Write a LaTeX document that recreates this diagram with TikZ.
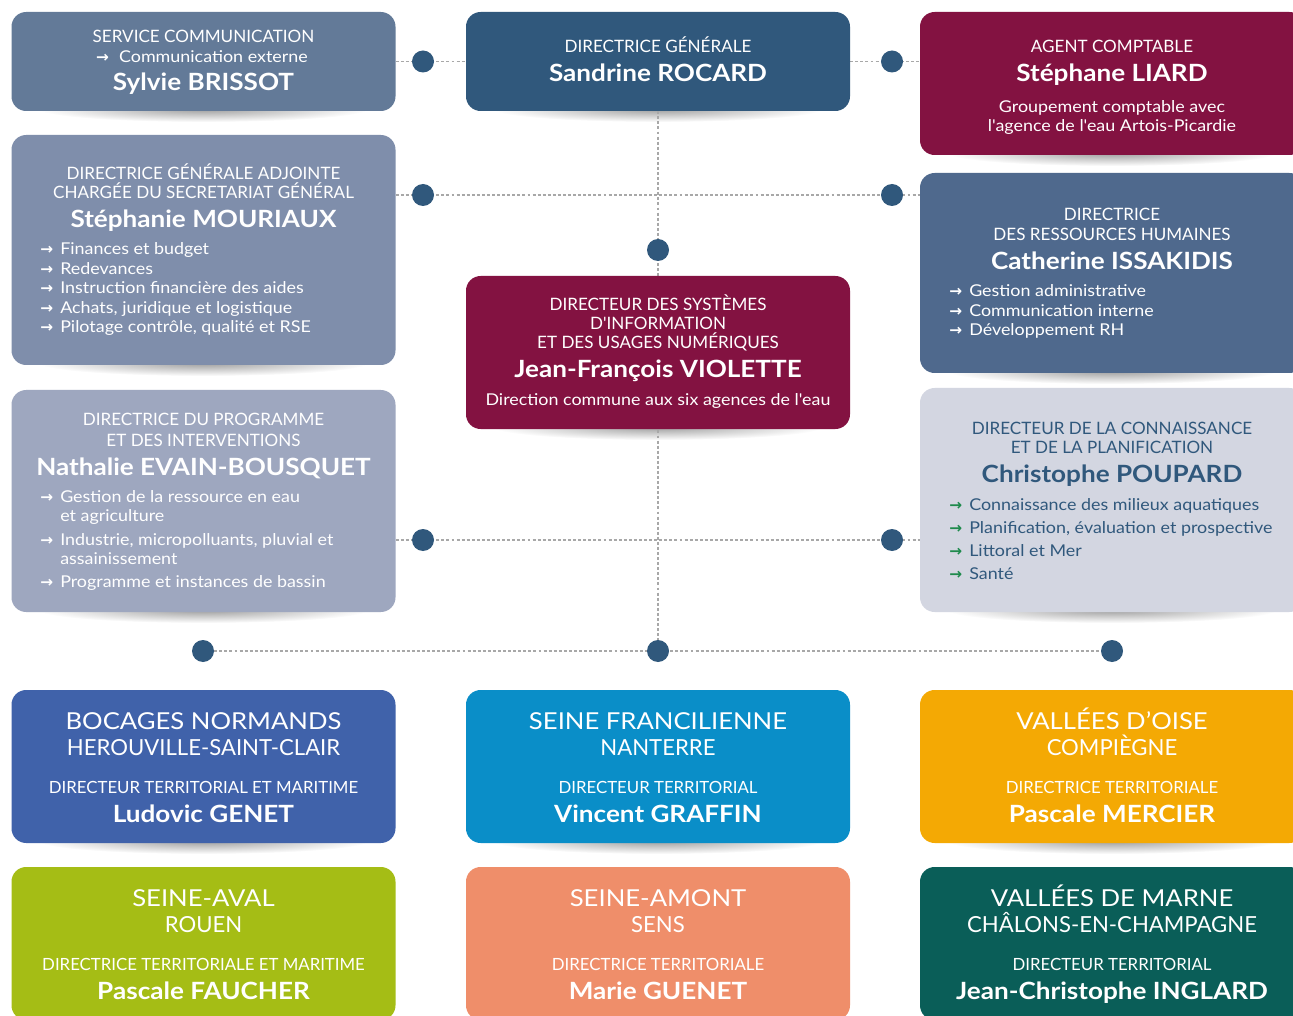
\documentclass[tikz,border=0pt]{standalone}
\usepackage{fontspec}
\setmainfont{Lato}[Ligatures=TeXOff]
\newfontfamily\wide{Lato}[Ligatures=TeXOff, FakeStretch=1.1]
\newfontfamily\arrfont{DejaVu Sans}[Ligatures=TeXOff]
\usetikzlibrary{backgrounds,fadings}
\newcommand\fs[1]{\fontsize{#1}{#1}\selectfont}
\newcommand\arwg{{\arrfont\bfseries\fs{11.5}→}}
\newcommand\arw{\makebox[15pt][l]{\arwg}}
\definecolor{cSvc}{HTML}{637A98}
\definecolor{cDG}{HTML}{30587C}
\definecolor{cMar}{HTML}{831241}
\definecolor{cMou}{HTML}{7F8EAB}
\definecolor{cIss}{HTML}{4F698D}
\definecolor{cEva}{HTML}{9EA7BF}
\definecolor{cPou}{HTML}{D3D6E1}
\definecolor{cBoc}{HTML}{4062AA}
\definecolor{cSfr}{HTML}{0A8EC8}
\definecolor{cVdo}{HTML}{F4A904}
\definecolor{cSav}{HTML}{A5BD15}
\definecolor{cSam}{HTML}{EF8E6A}
\definecolor{cVdm}{HTML}{0A5E58}
\definecolor{cGreen}{HTML}{1E8A4C}
\definecolor{cLine}{HTML}{A8A8A8}
\tikzfading[name=shfade, inner color=transparent!62, outer color=transparent!100]
\newcommand\shad[2]{%
  \fill[black, path fading=shfade] (#1,#2) ellipse (165 and 13);}
\tikzset{
  orgbox/.style={rounded corners=11pt, inner sep=0pt, minimum width={384*0.75pt}},
  orgdot/.style={circle, fill=cDG, inner sep=0pt, minimum size={22*0.75pt}},
  conn/.style={draw=cLine, line width=0.8pt, dash pattern=on 2.2pt off 1.6pt},
  tx/.style={anchor=base, text=white, inner sep=0pt},
  capl/.style={tx, font=\fs{12.8}},
  nm/.style={tx, font=\wide\bfseries\fs{17.8}},
  txt/.style={tx, font=\wide\fs{12.2}},
  li/.style={anchor=base west, text=white, inner sep=0pt, font=\wide\fs{12.2}},
  reg/.style={tx, font=\wide\fs{17.5}},
  city/.style={tx, font=\fs{16.6}},
  rolel/.style={tx, font=\fs{12.6}},
}
\begin{document}
\begin{tikzpicture}[x=0.75pt, y=-0.75pt]
\path[use as bounding box] (0,0) rectangle (1293,1016);
\clip (0,0) rectangle (1293,1016);

% boxes
\node[orgbox, fill=cSvc, minimum height={99*0.75pt}] (svc) at (203.5,61.5) {};
\node[orgbox, fill=cDG, minimum height={99*0.75pt}] (dg) at (658,61.5) {};
\node[orgbox, fill=cMar, minimum height={143*0.75pt}] (agent) at (1112,83.5) {};
\node[orgbox, fill=cMou, minimum height={230*0.75pt}] (mour) at (203.5,250) {};
\node[orgbox, fill=cIss, minimum height={200*0.75pt}] (iss) at (1112,273) {};
\node[orgbox, fill=cMar, minimum height={153*0.75pt}] (viol) at (658,352.5) {};
\node[orgbox, fill=cEva, minimum height={222*0.75pt}] (evain) at (203.5,501) {};
\node[orgbox, fill=cPou, minimum height={224*0.75pt}] (poup) at (1112,500) {};
\node[orgbox, fill=cBoc, minimum height={153*0.75pt}] (boc) at (203.5,766.5) {};
\node[orgbox, fill=cSfr, minimum height={153*0.75pt}] (sfr) at (658,766.5) {};
\node[orgbox, fill=cVdo, minimum height={153*0.75pt}] (vdo) at (1112,766.5) {};
\node[orgbox, fill=cSav, minimum height={153*0.75pt}] (sav) at (203.5,943.5) {};
\node[orgbox, fill=cSam, minimum height={153*0.75pt}] (sam) at (658,943.5) {};
\node[orgbox, fill=cVdm, minimum height={153*0.75pt}] (vdm) at (1112,943.5) {};

% dots
\node[orgdot] (d1) at (423,61.5) {};
\node[orgdot] (d2) at (892,61.5) {};
\node[orgdot] (d3) at (423,195) {};
\node[orgdot] (d4) at (892,195) {};
\node[orgdot] (d5) at (658,250) {};
\node[orgdot] (d6) at (423,540) {};
\node[orgdot] (d7) at (892,540) {};
\node[orgdot] (d8) at (203,651) {};
\node[orgdot] (d9) at (658,651) {};
\node[orgdot] (d10) at (1112,651) {};

\begin{pgfonlayer}{background}
\fill[white] (0,0) rectangle (1293,1016);
\shad{203.5}{109}
\shad{658}{109}
\shad{1112}{153}
\shad{203.5}{363}
\shad{1112}{371}
\shad{658}{427}
\shad{203.5}{610}
\shad{1112}{610}
\shad{203.5}{841}
\shad{658}{841}
\shad{1112}{841}
\draw[conn] (svc) -- (dg);
\draw[conn] (dg.east) -- (dg.east -| agent.west);
\draw[conn] (mour.east |- d3) -- (iss.west |- d3);
\draw[conn] (evain.east |- d6) -- (poup.west |- d6);
\draw[conn] (dg) -- (d9);
\draw[conn] (d8) -- (d10);
\end{pgfonlayer}

% Service communication
\node[capl] (t1a) at (203.5,43) {SERVICE COMMUNICATION};
\node[txt] (t1b) at (202,63) {\arwg\,\, Communication externe};
\node[nm] (t1c) at (203.5,91) {Sylvie BRISSOT};

% Directrice generale
\node[capl] (t2a) at (658,53) {DIRECTRICE GÉNÉRALE};
\node[nm] (t2b) at (658,82) {Sandrine ROCARD};

% Agent comptable
\node[capl] (t3a) at (1112,53) {AGENT COMPTABLE};
\node[nm] (t3b) at (1112,82) {Stéphane LIARD};
\node[txt] (t3c) at (1112,113) {Groupement comptable avec};
\node[txt] (t3d) at (1112,132) {l'agence de l'eau Artois-Picardie};

% Mouriaux
\node[capl] (t4a) at (203.5,180) {DIRECTRICE GÉNÉRALE ADJOINTE};
\node[capl] (t4b) at (203.5,199) {CHARGÉE DU SECRETARIAT GÉNÉRAL};
\node[nm] (t4c) at (203.5,228) {Stéphanie MOURIAUX};
\node[li] (t4d) at (40,255) {\arw Finances et budget};
\node[li] (t4e) at (40,274.5) {\arw Redevances};
\node[li] (t4f) at (40,294) {\arw Instruction financière des aides};
\node[li] (t4g) at (40,313.5) {\arw Achats, juridique et logistique};
\node[li] (t4h) at (40,333) {\arw Pilotage contrôle, qualité et RSE};

% Issakidis
\node[capl] (t5a) at (1112,221) {DIRECTRICE};
\node[capl] (t5b) at (1112,241) {DES RESSOURCES HUMAINES};
\node[nm] (t5c) at (1112,270) {Catherine ISSAKIDIS};
\node[li] (t5d) at (949,297) {\arw Gestion administrative};
\node[li] (t5e) at (949,316.5) {\arw Communication interne};
\node[li] (t5f) at (949,336) {\arw Développement RH};

% Violette
\node[capl] (t6a) at (658,311) {DIRECTEUR DES SYSTÈMES};
\node[capl] (t6b) at (658,330) {D'INFORMATION};
\node[capl] (t6c) at (658,349) {ET DES USAGES NUMÉRIQUES};
\node[nm] (t6d) at (658,378) {Jean-François VIOLETTE};
\node[txt] (t6e) at (658,406) {Direction commune aux six agences de l'eau};

% Evain-Bousquet
\node[capl] (t7a) at (203.5,426) {DIRECTRICE DU PROGRAMME};
\node[capl] (t7b) at (203.5,446) {ET DES INTERVENTIONS};
\node[nm] (t7c) at (203.5,475) {Nathalie EVAIN-BOUSQUET};
\node[li] (t7d) at (40,502) {\arw Gestion de la ressource en eau};
\node[li] (t7e) at (60,521) {et agriculture};
\node[li] (t7f) at (40,545) {\arw Industrie, micropolluants, pluvial et};
\node[li] (t7g) at (60,564) {assainissement};
\node[li] (t7h) at (40,587) {\arw Programme et instances de bassin};

% Poupard
\node[capl, text=cDG] (t8a) at (1112,434) {DIRECTEUR DE LA CONNAISSANCE};
\node[capl, text=cDG] (t8b) at (1112,453) {ET DE LA PLANIFICATION};
\node[nm, text=cDG] (t8c) at (1112,482) {Christophe POUPARD};
\node[li, text=cDG] (t8d) at (949,510) {\textcolor{cGreen}{\arw}Connaissance des milieux aquatiques};
\node[li, text=cDG] (t8e) at (949,533) {\textcolor{cGreen}{\arw}Planification, évaluation et prospective};
\node[li, text=cDG] (t8f) at (949,556) {\textcolor{cGreen}{\arw}Littoral et Mer};
\node[li, text=cDG] (t8g) at (949,579) {\textcolor{cGreen}{\arw}Santé};

% Territorial row 1
\node[reg] (b1a) at (203.5,729) {BOCAGES NORMANDS};
\node[city] (b1b) at (203.5,755) {HEROUVILLE-SAINT-CLAIR};
\node[rolel] (b1c) at (203.5,793) {DIRECTEUR TERRITORIAL ET MARITIME};
\node[nm] (b1d) at (203.5,822) {Ludovic GENET};

\node[reg] (b2a) at (658,729) {SEINE FRANCILIENNE};
\node[city] (b2b) at (658,755) {NANTERRE};
\node[rolel] (b2c) at (658,793) {DIRECTEUR TERRITORIAL};
\node[nm] (b2d) at (658,822) {Vincent GRAFFIN};

\node[reg] (b3a) at (1112,729) {VALLÉES D’OISE};
\node[city] (b3b) at (1112,755) {COMPIÈGNE};
\node[rolel] (b3c) at (1112,793) {DIRECTRICE TERRITORIALE};
\node[nm] (b3d) at (1112,822) {Pascale MERCIER};

% Territorial row 2
\node[reg] (b4a) at (203.5,906) {SEINE-AVAL};
\node[city] (b4b) at (203.5,932) {ROUEN};
\node[rolel] (b4c) at (203.5,970) {DIRECTRICE TERRITORIALE ET MARITIME};
\node[nm] (b4d) at (203.5,999) {Pascale FAUCHER};

\node[reg] (b5a) at (658,906) {SEINE-AMONT};
\node[city] (b5b) at (658,932) {SENS};
\node[rolel] (b5c) at (658,970) {DIRECTRICE TERRITORIALE};
\node[nm] (b5d) at (658,999) {Marie GUENET};

\node[reg] (b6a) at (1112,906) {VALLÉES DE MARNE};
\node[city] (b6b) at (1112,932) {CHÂLONS-EN-CHAMPAGNE};
\node[rolel] (b6c) at (1112,970) {DIRECTEUR TERRITORIAL};
\node[nm] (b6d) at (1112,999) {Jean-Christophe INGLARD};
\end{tikzpicture}
\end{document}
